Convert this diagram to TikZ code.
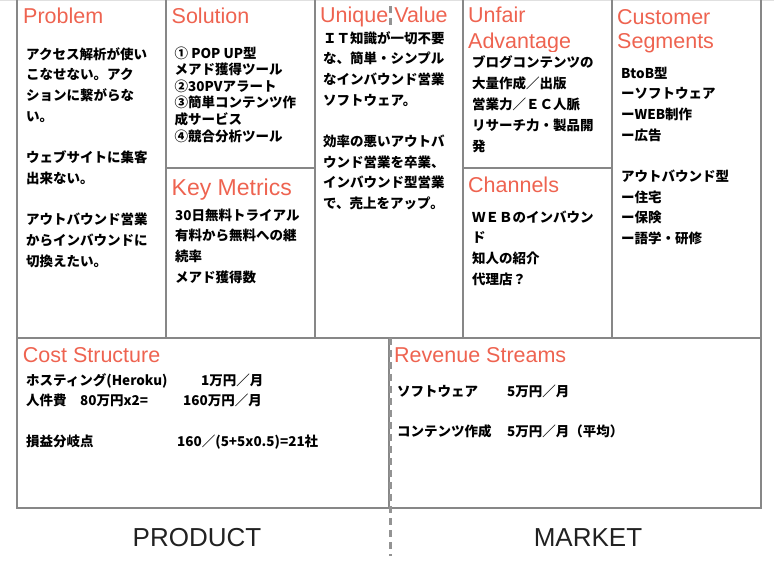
\documentclass[tikz,border=0pt]{standalone}
\usepackage{fontspec}
\setmainfont{Liberation Sans}
\newfontfamily\jp{Noto Sans CJK JP}
\definecolor{ttl}{RGB}{238,99,80}
\definecolor{gridc}{RGB}{135,135,135}
\tikzset{
  title/.style={anchor=base west, inner sep=0pt, text=ttl, font=\fontsize{21.5}{24}\selectfont},
  body/.style={anchor=base west, inner sep=0pt, font=\jp\bfseries\fontsize{13.5}{16}\selectfont},
  gridline/.style={draw=gridc, line width=2pt},
  divider/.style={draw=gridc!90, line width=2.2pt, dash pattern=on 7pt off 5pt},
  footer/.style={anchor=base, inner sep=0pt, text=black!87, font=\fontsize{26}{30}\selectfont},
}
\newcommand\blines[5]{%
  \foreach \t [count=\i from 0] in {#5}{\node[body] (#1\i) at (#2,{#3+\i*#4}) {\t};}}
\begin{document}
\begin{tikzpicture}[x=1pt,y=-1pt]
\useasboundingbox (0,0) rectangle (774,562);
% top faint line
\draw[draw=black!12, line width=1.5pt] (0,0.5) -- (774,0.5);
% grid
\draw[gridline] (17,0) -- (17,507.7) -- (761,507.7) -- (761,0);
\draw[gridline] (17,338) -- (761,338);
\draw[gridline] (166,0) -- (166,338);
\draw[gridline] (315,0) -- (315,338);
\draw[gridline] (463,0) -- (463,338);
\draw[gridline] (612,0) -- (612,338);
\draw[gridline] (166,168) -- (315,168);
\draw[gridline] (463,168) -- (612,168);
\draw[gridline] (388.5,338) -- (388.5,507.7);
% dashed divider
\draw[divider] (390.5,6) -- (390.5,28);
\draw[divider] (390.5,338) -- (390.5,556);
% titles
\node[title] (tprob) at (23,23.3) {Problem};
\node[title] (tsol) at (171.5,23.3) {Solution};
\node[title] (tuv) at (320,22.7) {Unique Value};
\node[title] (tua1) at (468,23) {Unfair};
\begin{scope}
\clip (464,30) rectangle (611,51.5);
\node[title] (tua2) at (468,48.3) {Advantage};
\end{scope}
\node[title] (tcs1) at (617,24) {Customer};
\node[title] (tcs2) at (617,48.5) {Segments};
\node[title, font=\fontsize{23}{26}\selectfont] (tkm) at (171.5,195) {Key Metrics};
\node[title] (tch) at (468,192.3) {Channels};
\node[title] (tcost) at (22.7,362.3) {Cost Structure};
\node[title] (trev) at (394,362) {Revenue Streams};
% bodies
\blines{prob}{26}{59}{20.7}{アクセス解析が使い,こなせない。アク,ションに繋がらな,い。,{},ウェブサイトに集客,出来ない。,{},アウトバウンド営業,からインバウンドに,切換えたい。}
\blines{sol}{174.5}{58}{16.6}{① POP UP型,メアド獲得ツール,②30PVアラート,③簡単コンテンツ作,成サービス,④競合分析ツール}
\blines{uv}{323}{43}{20.7}{ＩＴ知識が一切不要,な、簡単・シンプル,なインバウンド営業,ソフトウェア。,{},効率の悪いアウトバ,ウンド営業を卒業、,インバウンド型営業,で、売上をアップ。}
\blines{ua}{472}{67}{21}{ブログコンテンツの,大量作成／出版,営業力／ＥＣ人脈,リサーチ力・製品開,発}
\blines{cs}{621}{78}{20.7}{BtoB型,ーソフトウェア,ーWEB制作,ー広告,{},アウトバウンド型,ー住宅,ー保険,ー語学・研修}
\blines{km}{175}{220}{20.7}{30日無料トライアル,有料から無料への継,続率,メアド獲得数}
\blines{ch}{472}{222}{20.8}{ＷＥＢのインバウン,ド,知人の紹介,代理店？}
% cost
\node[body] (c1) at (26,385) {ホスティング(Heroku)};
\node[body] (c2) at (201,385) {1万円／月};
\node[body] (c3) at (26,405) {人件費};
\node[body] (c4) at (80,405) {80万円x2=};
\node[body] (c5) at (183,405) {160万円／月};
\node[body] (c6) at (26,446) {損益分岐点};
\node[body] (c7) at (177,446) {160／(5+5x0.5)=21社};
% revenue
\node[body] (r1) at (397,396) {ソフトウェア};
\node[body] (r2) at (507,396) {5万円／月};
\node[body] (r3) at (397,436) {コンテンツ作成};
\node[body] (r4) at (507,436) {5万円／月（平均）};
% footer
\node[footer] (prod) at (197,546) {PRODUCT};
\node[footer] (mkt) at (588,546) {MARKET};
\end{tikzpicture}
\end{document}
